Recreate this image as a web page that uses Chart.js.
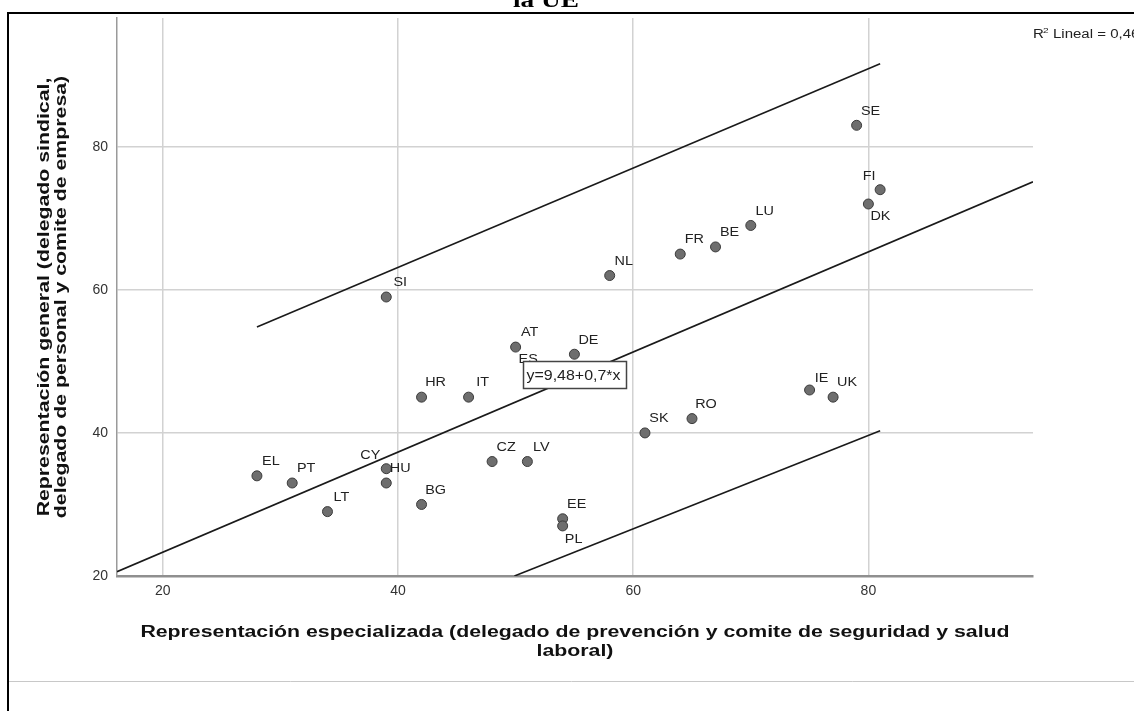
<!DOCTYPE html>
<html lang="es">
<head>
<meta charset="utf-8">
<title>Representación en la UE</title>
<script src="https://cdn.jsdelivr.net/npm/chart.js@4.4.1/dist/chart.umd.min.js"></script>
<style>
  html,body{margin:0;padding:0;background:#fff;}
  canvas{display:block;}
</style>
</head>
<body>
<canvas id="grafico" width="1134" height="711"></canvas>
<script>
/* =================== Datos =================== */
const paises        = ["SE","FI","DK","LU","BE","FR","NL","SI","AT","DE","ES","HR","IT","IE","UK","RO","SK","CZ","LV","CY","HU","BG","EE","PL","LT","EL","PT"];
const especializada = [ 79,  81,  80,  70,  67,  64,  58,  39,  50,  55,  52,  42,  46,  75,  77,  65,  61,  48,  51,  39,  39,  42,  54,  54,  34,  28,  31];
const general       = [ 83,  74,  72,  69,  66,  65,  62,  59,  52,  51,  48,  45,  45,  46,  45,  42,  40,  36,  36,  35,  33,  30,  28,  27,  29,  34,  33];

// recta de ajuste y líneas de intervalo (extremos)
const ajusteX = [16.1, 94];
const ajusteY = [20.6, 75.1];
const limSupX = [28, 81];
const limSupY = [54.8, 91.6];
const limInfX = [49.9, 81];
const limInfY = [20, 40.3];

const ticksX = [20, 40, 60, 80];
const ticksY = [20, 40, 60, 80];

const ecuacion = "y=9,48+0,7*x";
const tituloY = ["Representación general (delegado sindical,", "delegado de personal y comite de empresa)"];
const tituloX = ["Representación especializada (delegado de prevención y comite de seguridad y salud", "laboral)"];

/* =============== Estilo de etiquetas =============== */
// desplazamiento (px) de la etiqueta respecto al punto; por defecto arriba a la derecha
const DESP_DEF = [14, -14];
const despEtiqueta = {
  FI: [-11, -13], DK: [12, 13], ES: [-11, -16], CY: [-16, -13],
  PL: [11, 14], IE: [12, -11]
};

const FUENTE = "Arial, 'Liberation Sans', sans-serif";
const ESTIRA = 1.33; // el original sale ensanchado en horizontal

/* =============== Utilidades =============== */
const pares = (xs, ys) => xs.map((x, i) => ({x, y: ys[i]}));
const puntos = pares(especializada, general);

// texto ensanchado en la dirección de escritura
function texto(c, t, x, y, k){
  c.save();
  c.translate(x, y);
  c.scale(k, 1);
  c.fillText(t, 0, 0);
  c.restore();
}

/* =============== Plugins =============== */
const marco = {
  id: "marco",
  beforeDraw(chart){
    const c = chart.ctx, W = chart.width, H = chart.height;
    c.save();
    c.fillStyle = "#fff"; c.fillRect(0, 0, W, H);
    // título cortado arriba
    c.fillStyle = "#000";
    c.font = "bold 21px 'Liberation Serif', 'Times New Roman', serif";
    c.textAlign = "center"; c.textBaseline = "alphabetic";
    texto(c, "la UE", 546, 7, 1.3);
    // borde del visor
    c.strokeStyle = "#000"; c.lineWidth = 2;
    c.beginPath();
    c.moveTo(7, 13); c.lineTo(W, 13);
    c.moveTo(8, 12); c.lineTo(8, H);
    c.stroke();
    c.strokeStyle = "#c8c8c8"; c.lineWidth = 1;
    c.beginPath(); c.moveTo(9, 681.5); c.lineTo(W, 681.5); c.stroke();
    c.restore();
  }
};

const textos = {
  id: "textos",
  afterDatasetsDraw(chart){
    const c = chart.ctx, sx = chart.scales.x, sy = chart.scales.y, area = chart.chartArea;
    c.save();

    // etiquetas de países
    c.fillStyle = "#222";
    c.font = "12px " + FUENTE;
    c.textAlign = "center"; c.textBaseline = "middle";
    paises.forEach((p, i) => {
      const [dx, dy] = despEtiqueta[p] || DESP_DEF;
      texto(c, p, sx.getPixelForValue(especializada[i]) + dx, sy.getPixelForValue(general[i]) + dy, 1.2);
    });

    // cuadro con la ecuación
    const bx = Math.round(sx.getPixelForValue(50.6)) + 0.5;
    const by = Math.round(sy.getPixelForValue(50)) + 0.5;
    c.font = "14px " + FUENTE;
    const w = 103, h = 27;
    c.fillStyle = "#fff"; c.fillRect(bx, by, w, h);
    c.strokeStyle = "#444"; c.lineWidth = 1.5; c.strokeRect(bx, by, w, h);
    c.fillStyle = "#222"; c.textAlign = "left";
    texto(c, ecuacion, bx + 3, by + h / 2 + 1, 1.14);

    // R2
    c.textAlign = "left"; c.textBaseline = "alphabetic";
    c.font = "12px " + FUENTE;
    texto(c, "R", 1033, 38, 1.25);
    c.font = "8px " + FUENTE;
    texto(c, "2", 1043, 33, 1.25);
    c.font = "12px " + FUENTE;
    texto(c, "Lineal = 0,46", 1053, 38, 1.25);

    // títulos de ejes
    c.fillStyle = "#111";
    c.font = "bold 16px " + FUENTE;
    c.textAlign = "center"; c.textBaseline = "middle";
    texto(c, tituloX[0], 575, 633, ESTIRA);
    texto(c, tituloX[1], 575, 652, ESTIRA);
    c.translate(0, (area.top + area.bottom) / 2);
    c.rotate(-Math.PI / 2);
    texto(c, tituloY[0], 0, 45, ESTIRA);
    texto(c, tituloY[1], 0, 62, ESTIRA);
    c.restore();
  }
};

/* =============== Gráfico =============== */
const lineaNegra = (data) => ({
  type: "line", data, borderColor: "#1a1a1a", borderWidth: 1.6,
  pointRadius: 0, fill: false, tension: 0
});

new Chart(document.getElementById("grafico"), {
  type: "scatter",
  data: {
    datasets: [
      lineaNegra(pares(ajusteX, ajusteY)),
      lineaNegra(pares(limSupX, limSupY)),
      lineaNegra(pares(limInfX, limInfY)),
      {
        type: "scatter", data: puntos,
        pointRadius: 5, pointHoverRadius: 5,
        backgroundColor: "#6e6e6e", borderColor: "#3c3c3c", borderWidth: 1
      }
    ]
  },
  options: {
    responsive: false,
    animation: false,
    events: [],
    layout: { padding: { top: 18, right: 101, left: 0, bottom: 0 } },
    plugins: { legend: { display: false }, tooltip: { enabled: false } },
    scales: {
      x: {
        type: "linear", min: 16.1, max: 94,
        afterBuildTicks: s => { s.ticks = ticksX.map(v => ({value: v})); },
        afterFit: s => { s.height = 135; },
        grid: { color: "#d2d2d2", lineWidth: 1.5, drawTicks: false },
        border: { color: "#8f8f8f", width: 2.5 },
        ticks: { color: "#333", font: { size: 14, family: FUENTE }, padding: 7, maxRotation: 0 }
      },
      y: {
        type: "linear", min: 20, max: 98,
        afterBuildTicks: s => { s.ticks = ticksY.map(v => ({value: v})); },
        afterFit: s => { s.width = 117; },
        grid: { color: "#d2d2d2", lineWidth: 1.5, drawTicks: false },
        border: { color: "#9a9a9a", width: 1.5 },
        ticks: { color: "#333", font: { size: 14, family: FUENTE }, padding: 9 }
      }
    }
  },
  plugins: [marco, textos]
});
</script>
</body>
</html>
